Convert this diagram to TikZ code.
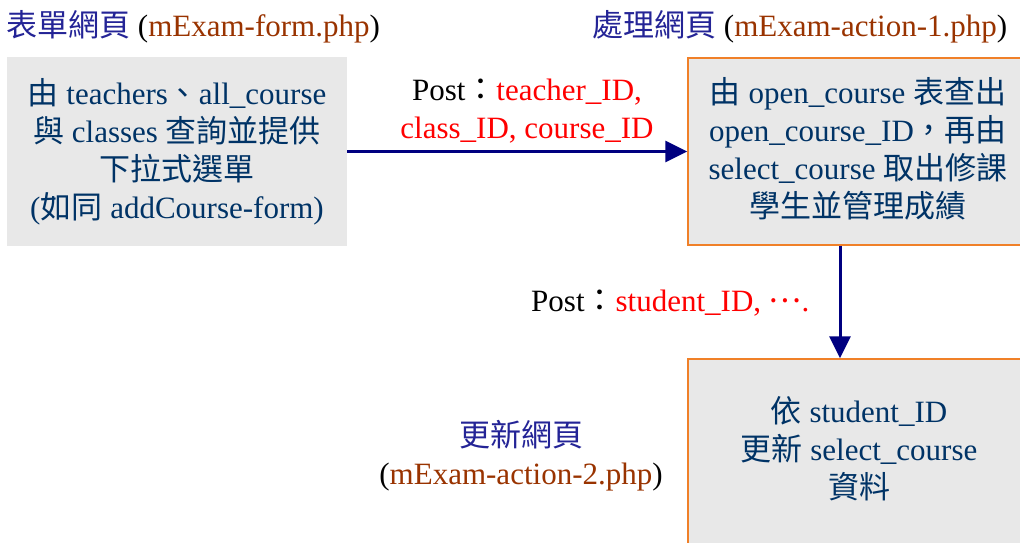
\documentclass[tikz,border=0pt]{standalone}
\usepackage{fontspec}
\setmainfont{Liberation Serif}
\newfontfamily\cjk{Noto Sans CJK TC}
\usetikzlibrary{arrows.meta}
\definecolor{titlenavy}{RGB}{36,36,150}
\definecolor{fname}{RGB}{153,51,0}
\definecolor{boxtext}{RGB}{0,51,102}
\definecolor{arrownavy}{RGB}{0,0,128}
\definecolor{boxfill}{RGB}{232,232,232}
\definecolor{boxedge}{RGB}{240,128,40}
\definecolor{postred}{RGB}{255,0,0}
\begin{document}
\begin{tikzpicture}[x=1pt,y=-1pt,
  every node/.style={inner sep=0pt, font=\fontsize{31}{38}\selectfont},
  greybox/.style={rectangle, fill=boxfill, draw=none},
  edgebox/.style={rectangle, fill=boxfill, draw=boxedge, line width=1.5pt},
  boxtxt/.style={align=center, text=boxtext},
  flow/.style={draw=arrownavy, line width=3pt, -{Triangle[length=22pt,width=21pt]}},
  lbl/.style={align=center}]
\useasboundingbox (0,0) rectangle (1020,543);
\clip (0,0) rectangle (1020,543);

% titles
\node[anchor=west] (t1) at (6,27) {{\color{titlenavy}\cjk 表單網頁} ({\color{fname}mExam-form.php})};
\node[anchor=west] (t2) at (592,27) {{\color{titlenavy}\cjk 處理網頁} ({\color{fname}mExam-action-1.php})};
\node[lbl] (t3) at (521,456) {{\color{titlenavy}\cjk 更新網頁}\\({\color{fname}mExam-action-2.php})};

% boxes
\node[greybox, minimum width=340pt, minimum height=189pt, boxtxt] (lb) at (177,151.5)
  {{\cjk 由} teachers{\cjk 、}all\_course\\{\cjk 與} classes {\cjk 查詢並提供}\\{\cjk 下拉式選單}\\({\cjk 如同} addCourse-form)};
\node[edgebox, minimum width=342pt, minimum height=187pt] (rb1) at (859,151.5) {};
\node[boxtxt] (rt1) at (858,148.5)
  {{\cjk 由} open\_course {\cjk 表查出}\\open\_course\_ID{\cjk ，再由}\\select\_course {\cjk 取出修課}\\{\cjk 學生並管理成績}};
\node[edgebox, minimum width=342pt, minimum height=201pt] (rb2) at (859,459.5) {};
\node[boxtxt] (rt2) at (859,449)
  {{\cjk 依} student\_ID\\{\cjk 更新} select\_course\\{\cjk 資料}};

% labels
\node[lbl] (p1) at (527,111) {Post{\cjk ：}{\color{postred}teacher\_ID,}\\{\color{postred}class\_ID, course\_ID}};
\node[anchor=west] (p2) at (531,303) {Post{\cjk ：}{\color{postred}student\_ID, \raisebox{0.3em}{\cjk …}.}};

% connectors
\coordinate (ax) at (840,0);
\draw[flow] (lb.east) -- (rb1.west);
\draw[flow] (ax |- rb1.south) -- (ax |- rb2.north);
\end{tikzpicture}
\end{document}
